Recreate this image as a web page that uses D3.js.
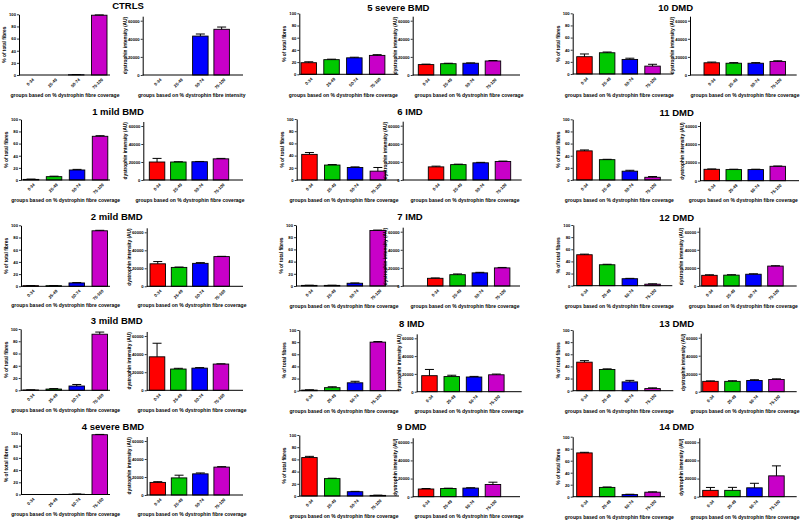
<!DOCTYPE html>
<html><head><meta charset="utf-8">
<script src="https://cdn.jsdelivr.net/npm/d3@7"></script>
<style>html,body{margin:0;padding:0;background:#fff;} svg{display:block;}</style>
</head><body><svg id="c" width="800" height="522"></svg>
<script>
// ---------- DATA ----------
const categories = ["0-34", "25-49", "50-74", "75-100"];
const barColors = ["#ff0000", "#00c800", "#0000ff", "#c800c8"];
const panelTitles = ["CTRLS", "1 mild BMD", "2 mild BMD", "3 mild BMD", "4 severe BMD",
  "5 severe BMD", "6 IMD", "7 IMD", "8 IMD", "9 DMD",
  "10 DMD", "11 DMD", "12 DMD", "13 DMD", "14 DMD"];
const pctTicks = [0, 20, 40, 60, 80, 100];
const intTicks = [0, 20000, 40000, 60000];
const pctLabel = "% of total fibres";
const intLabel = "dystrophin intensity (AU)";
const xLabelCoverage = "groups based on % dystrophin fibre coverage";
const xLabelIntensity = "groups based on % dystrophin fibre intensity";

const fibrePct = [
  [0, 0, 0.4, 98.5],
  [1, 5.5, 16.5, 72],
  [1, 1, 5.5, 91],
  [0.5, 2, 7, 91.5],
  [0, 0, 0.5, 98],
  [19, 24, 27, 31],
  [42, 24.5, 20.5, 14.5],
  [1, 1, 4.5, 91],
  [1, 5, 13, 80],
  [63, 28.5, 7, 1],
  [28.5, 35, 24, 13],
  [48, 33.5, 14.5, 4.5],
  [51, 34.5, 11.5, 2.5],
  [47, 35, 14.5, 3.5],
  [73, 15.5, 3.5, 7.5]
];
const fibrePctErr = [
  [0, 0, 0.3, 0.5],
  [0.5, 0.8, 1, 1],
  [0.3, 0.3, 0.6, 0.8],
  [0.3, 0.8, 2.5, 3.5],
  [0, 0, 0.3, 0.5],
  [1.5, 0.8, 1, 1.2],
  [3, 0.8, 1, 6],
  [0.3, 0.3, 0.5, 0.7],
  [0.5, 1.5, 2.5, 1],
  [2, 0.7, 0.6, 0.4],
  [4.5, 1.2, 2, 3],
  [1.5, 0.6, 1.5, 1.2],
  [1, 0.8, 0.6, 0.6],
  [2.5, 1, 2.5, 1.2],
  [1, 0.7, 0.6, 0.6]
];
const intensity = [
  [0, 0, 43000, 50500],
  [20000, 20000, 20300, 23500],
  [25000, 21000, 25500, 33000],
  [37000, 23500, 24500, 29000],
  [14000, 19000, 23500, 31000],
  [11500, 12500, 13000, 15500],
  [14500, 17000, 19000, 20500],
  [8500, 12500, 14500, 20000],
  [18000, 17000, 16500, 19000],
  [8500, 9000, 9500, 13500],
  [13500, 13000, 13000, 15000],
  [12500, 12200, 12200, 15800],
  [11800, 12000, 13000, 22000],
  [11500, 11500, 12500, 13500],
  [7000, 7000, 9800, 23000]
];
const intensityErr = [
  [0, 0, 2300, 2500],
  [4000, 300, 300, 500],
  [2500, 400, 800, 300],
  [15000, 800, 600, 300],
  [800, 3000, 1000, 500],
  [500, 500, 400, 500],
  [800, 500, 500, 400],
  [400, 800, 600, 500],
  [7000, 1500, 700, 800],
  [500, 400, 400, 2500],
  [800, 700, 700, 700],
  [400, 400, 400, 300],
  [600, 500, 500, 400],
  [500, 700, 800, 800],
  [3200, 3300, 5000, 11000]
];

// ---------- LAYOUT (pixel placement of each pasted panel) ----------
// [titleX, titleY, Lax, Lend, Lbar0, Lbase, Ltop, Rax, Rend, Rbar0, Rbase, R60k, labY, LlabX, RlabX]
const layout = [
  [128, 6, 19, 110, 22.5, 75, 14.3, 142.7, 243, 150, 75, 20.7, 95.7, 65, 191.7],
  [118, 111.7, 21, 110, 23.3, 180, 119.3, 143.3, 243, 149.3, 180, 126, 200, 65.7, 190],
  [116.7, 216.7, 21, 110, 23, 286.3, 225.3, 146.7, 243, 150, 286.3, 232.3, 305.7, 65.7, 192],
  [116.7, 321, 20.7, 110, 23, 390.3, 329, 146.7, 243, 149.3, 390.3, 336, 410, 65.7, 192],
  [113, 427, 21, 110, 23, 494.5, 433.5, 146.7, 243, 150, 495, 441, 514, 65.7, 192],
  [398.3, 7.3, 299.3, 398.3, 301, 74.3, 13.3, 412.7, 520, 418.3, 75, 20.7, 95, 343.3, 469],
  [410, 111.7, 296.7, 399, 301.7, 180, 119, 402.7, 521.7, 428.3, 180, 125.7, 200, 344, 465],
  [410, 216.7, 296, 399, 301.5, 286, 225, 402.7, 520, 427.5, 286, 231.7, 306.7, 344, 465],
  [411.7, 324, 299.3, 399, 301.7, 390.7, 330, 416.7, 521.7, 421.7, 391.7, 338.3, 411.7, 344, 469],
  [411.7, 426.7, 299.3, 399, 301.7, 496, 435, 412.7, 520, 418.3, 496.7, 442.3, 516.7, 344, 469],
  [675.7, 7.3, 572.7, 673.3, 576.7, 74, 13.3, 690, 796.7, 704, 75, 20.7, 95, 619.3, 745],
  [676.7, 112.7, 572.7, 671.7, 576.7, 180, 119.3, 700, 799, 704, 180.7, 126, 200, 619.3, 743.3],
  [676.7, 217.3, 573.3, 672.3, 576.7, 285.7, 225, 699.3, 796.7, 701.7, 286, 231.7, 306, 619.3, 743.3],
  [676.7, 324, 572.7, 673.3, 576.7, 390.7, 330, 700.7, 796.7, 702.7, 391.7, 337.7, 411, 619.3, 745],
  [676.7, 426.7, 572.7, 665, 576.7, 496.7, 436.7, 699.3, 796.7, 702.7, 496.7, 442.3, 517.3, 619.3, 745]
];
const colSteps = [[23, 21.3], [22.8, 22.3], [22.7, 22]];

// ---------- DRAW ----------
const FONT = '"Liberation Sans", Arial, Helvetica, sans-serif';
const svg = d3.select("#c").style("font-family", FONT);
svg.append("rect").attr("width", 800).attr("height", 522).attr("fill", "#fff");

function subChart(o) {
  const g = svg.append("g");
  const topPx = o.base - (o.base - o.refY) * o.maxVal / o.refVal;
  const y = d3.scaleLinear().domain([0, o.maxVal]).range([o.base, topPx]);
  const bw = 15.5;
  const x = d3.scaleBand().domain(categories)
    .range([o.bar0, o.bar0 + 3 * o.step + bw])
    .paddingInner(1 - bw / o.step).paddingOuter(0);

  // bars
  categories.forEach((c, i) => {
    const v = o.values[i];
    if (v <= 0) return;
    g.append("rect")
      .attr("x", x(c)).attr("y", y(v))
      .attr("width", x.bandwidth()).attr("height", o.base - y(v))
      .attr("fill", barColors[i]).attr("stroke", "#000").attr("stroke-width", 0.9);
    const e = o.errs[i];
    if (e > 0) {
      const cx = x(c) + x.bandwidth() / 2;
      g.append("line").attr("x1", cx).attr("x2", cx).attr("y1", y(v)).attr("y2", y(v + e))
        .attr("stroke", "#000").attr("stroke-width", 1);
      g.append("line").attr("x1", cx - 4.5).attr("x2", cx + 4.5).attr("y1", y(v + e)).attr("y2", y(v + e))
        .attr("stroke", "#000").attr("stroke-width", 1);
    }
  });

  // y axis
  const ya = g.append("g").attr("transform", `translate(${o.ax},0)`)
    .call(d3.axisLeft(y).tickValues(o.ticks).tickSize(2).tickSizeOuter(0).tickPadding(1).tickFormat(d3.format("d")));
  ya.attr("font-size", null).attr("font-family", null);
  ya.select(".domain").attr("stroke", "#000").attr("stroke-width", 1);
  ya.selectAll(".tick line").attr("stroke", "#000").attr("stroke-width", 0.8);
  ya.selectAll(".tick text").style("font-size", "4.2px").style("font-weight", "bold")
    .style("font-family", FONT).attr("fill", "#000");

  // x axis line
  g.append("line").attr("x1", o.ax).attr("x2", o.end).attr("y1", o.base).attr("y2", o.base)
    .attr("stroke", "#000").attr("stroke-width", 1);

  // x tick labels, rotated
  categories.forEach((c, i) => {
    const cx = x(c) + x.bandwidth() / 2;
    g.append("text").text(c)
      .attr("transform", `translate(${cx + 3},${o.base + 4}) rotate(-45)`)
      .attr("text-anchor", "end").attr("dy", "0.35em")
      .style("font-size", "4.2px").attr("font-weight", "bold").attr("fill", "#000");
  });

  // y label
  g.append("text").text(o.ylabel)
    .attr("transform", `translate(${o.ax - o.ylabOff},${(o.base + topPx) / 2}) rotate(-90)`)
    .attr("text-anchor", "middle").attr("dy", "0.35em")
    .style("font-size", "4.8px").attr("font-weight", "bold").attr("fill", "#000");

  // x label
  g.append("text").text(o.xlabel)
    .attr("x", o.labX).attr("y", o.labY).attr("dy", "0.35em")
    .attr("text-anchor", "middle")
    .style("font-size", "5px").attr("font-weight", "bold").attr("fill", "#000");
}

panelTitles.forEach((t, p) => {
  const L = layout[p];
  const col = Math.floor(p / 5);
  svg.append("text").text(t)
    .attr("x", L[0]).attr("y", L[1]).attr("dy", "0.36em")
    .attr("text-anchor", "middle").style("font-size", "9.5px").attr("font-weight", "bold").attr("fill", "#000");
  subChart({
    ax: L[2], end: L[3], bar0: L[4], base: L[5], refY: L[6], refVal: 100, maxVal: 100,
    step: colSteps[col][0], ticks: pctTicks, values: fibrePct[p], errs: fibrePctErr[p],
    ylabel: pctLabel, ylabOff: 14.5, xlabel: xLabelCoverage, labX: L[13], labY: L[12]
  });
  subChart({
    ax: L[7], end: L[8], bar0: L[9], base: L[10], refY: L[11], refVal: 60000, maxVal: 65000,
    step: colSteps[col][1], ticks: intTicks, values: intensity[p], errs: intensityErr[p],
    ylabel: intLabel, ylabOff: 17.5, xlabel: p === 0 ? xLabelIntensity : xLabelCoverage, labX: L[14], labY: L[12]
  });
});
</script></body></html>
